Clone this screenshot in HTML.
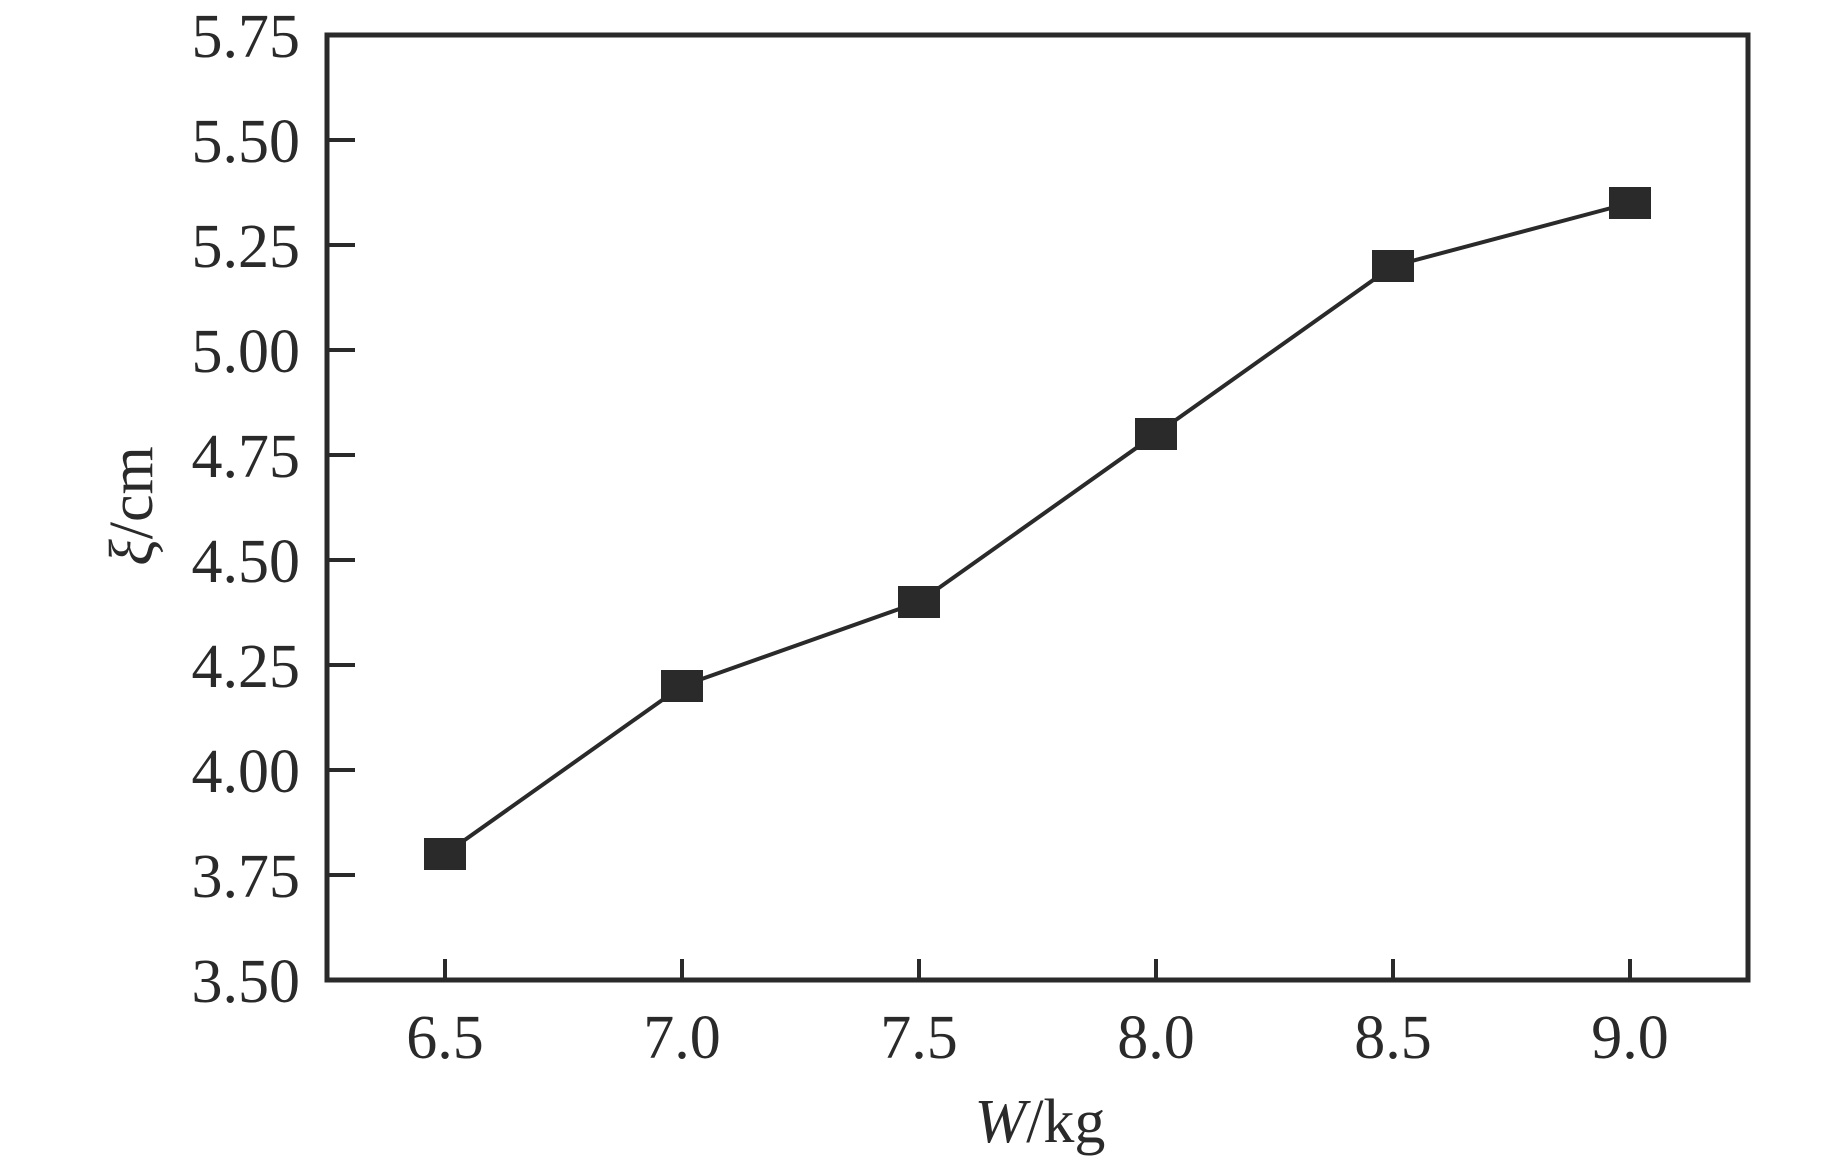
<!DOCTYPE html>
<html><head><meta charset="utf-8"><style>
html,body{margin:0;padding:0;background:#fff;}
svg{display:block;font-family:"Liberation Serif",serif;}
</style></head><body>
<svg id="chart" width="1843" height="1164" viewBox="0 0 1843 1164">
<g id="axes"></g>
<g id="series"></g>
<text x="1040" y="1142" font-size="62" text-anchor="middle" fill="#2a2a2a"><tspan font-style="italic">W</tspan>/kg</text>
<text transform="translate(152,506) rotate(-90)" font-size="62" text-anchor="middle" fill="#2a2a2a"><tspan font-style="italic">ξ</tspan>/cm</text>
</svg>
<script>
const xValues = [6.5, 7.0, 7.5, 8.0, 8.5, 9.0];
const yValues = [3.8, 4.2, 4.4, 4.8, 5.2, 5.35];
const xTicks = [6.5, 7.0, 7.5, 8.0, 8.5, 9.0];
const xTickLabels = ["6.5", "7.0", "7.5", "8.0", "8.5", "9.0"];
const yTicks = [3.5, 3.75, 4.0, 4.25, 4.5, 4.75, 5.0, 5.25, 5.5, 5.75];
const yTickLabels = ["3.50", "3.75", "4.00", "4.25", "4.50", "4.75", "5.00", "5.25", "5.50", "5.75"];

const NS = "http://www.w3.org/2000/svg";
const L = 327, R = 1748, T = 35, B = 980;
const xMin = 6.5, xMax = 9.0, pxMin = 445, pxMax = 1630;
const yMin = 3.5, yMax = 5.75;
const C = "#2a2a2a";
function sx(v){ return pxMin + (v - xMin) / (xMax - xMin) * (pxMax - pxMin); }
function sy(v){ return B - (v - yMin) / (yMax - yMin) * (B - T); }
function mk(tag, attrs, parent){
  const e = document.createElementNS(NS, tag);
  for (const k in attrs) e.setAttribute(k, attrs[k]);
  parent.appendChild(e);
  return e;
}
const axes = document.getElementById("axes");
const series = document.getElementById("series");

const frame = mk("rect", {x:L, y:T, width:R-L, height:B-T, fill:"none", stroke:C, "stroke-width":5}, axes);



xTicks.forEach((v, i) => {
  const x = sx(v);
  const t = mk("line", {x1:x, x2:x, y1:B, y2:B-21, stroke:C, "stroke-width":4}, axes);
  
  
  const lb = mk("text", {x:x, y:1058, "font-size":62, "text-anchor":"middle", fill:C}, axes);
  lb.textContent = xTickLabels[i];
  
  
});
yTicks.forEach((v, i) => {
  const y = sy(v);
  if (i > 0 && i < yTicks.length - 1) {
    const t = mk("line", {x1:L, x2:L+28, y1:y, y2:y, stroke:C, "stroke-width":4}, axes);
    
    
  }
  const lb = mk("text", {x:300, y:y+22, "font-size":62, "text-anchor":"end", fill:C}, axes);
  lb.textContent = yTickLabels[i];
  
  
});

const pts = xValues.map((v, i) => sx(v) + "," + sy(yValues[i])).join(" ");
const line = mk("polyline", {points:pts, fill:"none", stroke:C, "stroke-width":4}, series);


xValues.forEach((v, i) => {
  const m = mk("rect", {x:sx(v)-21, y:sy(yValues[i])-16, width:42, height:32, fill:C}, series);
  
  
});
</script>
</body></html>
